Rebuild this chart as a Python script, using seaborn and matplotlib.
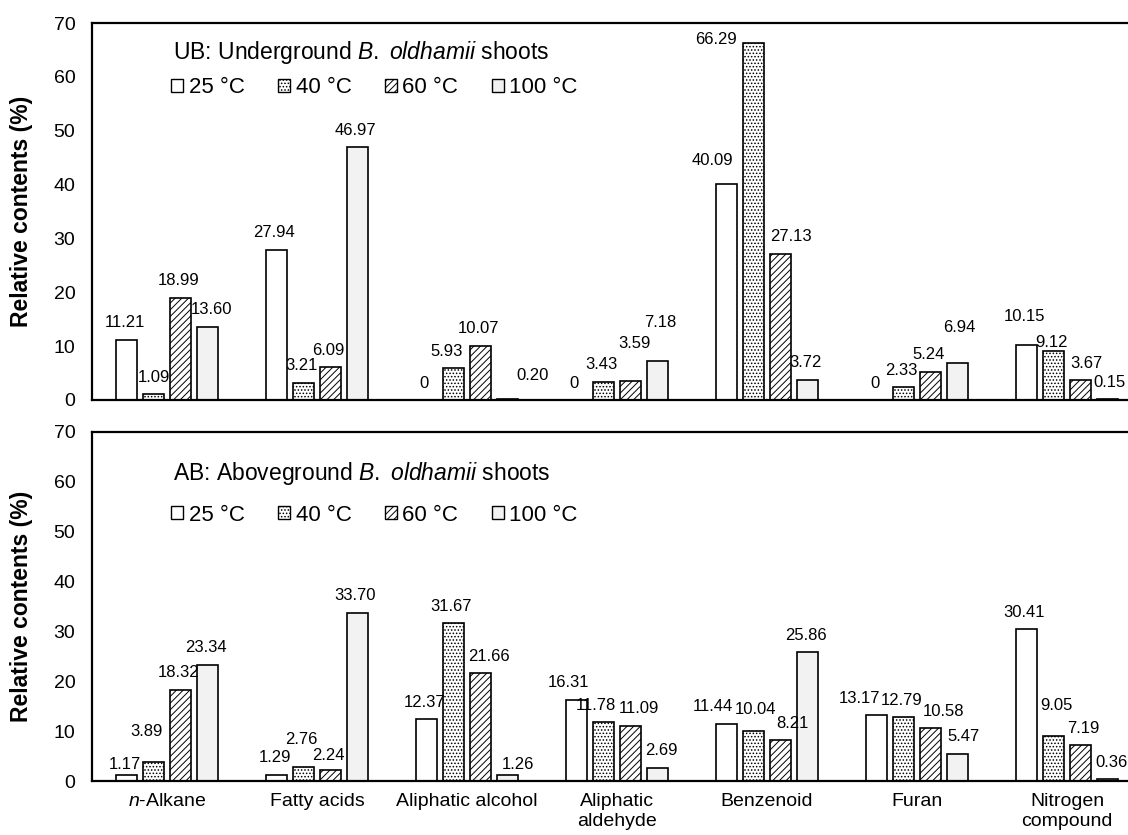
import numpy as np
import pandas as pd
import matplotlib
matplotlib.use("Agg")
import matplotlib.pyplot as plt
import matplotlib.patches as mpatches
import seaborn as sns

sns.set_style("white")
plt.rcParams['font.family'] = ['Liberation Sans', 'DejaVu Sans']
plt.rcParams['mathtext.fontset'] = 'custom'
plt.rcParams['mathtext.rm'] = 'Liberation Sans'
plt.rcParams['mathtext.it'] = 'Liberation Sans:italic'
plt.rcParams['hatch.linewidth'] = 0.7
for key in ['text.color', 'axes.labelcolor', 'xtick.color', 'ytick.color']:
    plt.rcParams[key] = 'black'

############################################################################################################
# Data
categories = ["$\\mathit{n}$-Alkane", "Fatty acids", "Aliphatic alcohol", "Aliphatic\naldehyde",
              "Benzenoid", "Furan", "Nitrogen\ncompound"]
temps = ["25 °C", "40 °C", "60 °C", "100 °C"]

ub_25 = [11.21, 27.94, 0, 0, 40.09, 0, 10.15]
ub_40 = [1.09, 3.21, 5.93, 3.43, 66.29, 2.33, 9.12]
ub_60 = [18.99, 6.09, 10.07, 3.59, 27.13, 5.24, 3.67]
ub_100 = [13.60, 46.97, 0.20, 7.18, 3.72, 6.94, 0.15]

ab_25 = [1.17, 1.29, 12.37, 16.31, 11.44, 13.17, 30.41]
ab_40 = [3.89, 2.76, 31.67, 11.78, 10.04, 12.79, 9.05]
ab_60 = [18.32, 2.24, 21.66, 11.09, 8.21, 10.58, 7.19]
ab_100 = [23.34, 33.70, 1.26, 2.69, 25.86, 5.47, 0.36]

titles = ["UB: Underground $\\mathit{B.\\ oldhamii}$ shoots",
          "AB: Aboveground $\\mathit{B.\\ oldhamii}$ shoots"]

# style per temperature
colors = ["white", "white", "white", "#f2f2f2"]
hatches = [None, ".....", "/////", None]

# hand-moved data labels (pixels, keyed by (category, temperature)), as in the original figure
nudges = [
    {(0, 1): (2, 0), (0, 3): (6, 0), (4, 0): (-12, 7), (4, 1): (-35, -14), (4, 2): (12, 0),
     (2, 3): (27, 6), (3, 2): (6, 20), (3, 3): (5, 22), (5, 3): (4, 18),
     (6, 0): (0, 12), (6, 1): (0, -9), (6, 2): (8, 0), (6, 3): (4, 0), (2, 1): (-5, 0)},
    {(0, 1): (-5, 13), (0, 0): (0, -6), (1, 1): (0, 11), (1, 2): (0, -3),
     (2, 2): (10, 0), (2, 3): (12, -7),
     (3, 0): (-6, 0), (3, 1): (-6, 0), (3, 2): (10, 0), (3, 3): (6, 0),
     (4, 0): (-12, 0), (4, 1): (4, 4), (4, 2): (14, 0),
     (5, 0): (-15, 0), (5, 1): (0, 0), (5, 2): (15, 0), (5, 3): (8, 0),
     (6, 1): (5, 13), (6, 2): (5, 0), (6, 3): (6, 0)},
]


def long_df(series):
    rows = []
    for t, vals in zip(temps, series):
        for c, v in zip(categories, vals):
            rows.append({"category": c, "temp": t, "value": v})
    return pd.DataFrame(rows)


df_ub = long_df([ub_25, ub_40, ub_60, ub_100])
df_ab = long_df([ab_25, ab_40, ab_60, ab_100])

############################################################################################################
# Plot
W, H = 1128, 835
fig = plt.figure(figsize=(W / 100, H / 100), dpi=100)
ax1 = fig.add_axes([92 / W, 1 - 400 / H, 1050 / W, 377 / H])
ax2 = fig.add_axes([92 / W, 1 - 781 / H, 1050 / W, 349 / H])

for k, (ax, df) in enumerate([(ax1, df_ub), (ax2, df_ab)]):
    sns.barplot(data=df, x="category", y="value", hue="temp", order=categories, hue_order=temps,
                palette=colors, edgecolor="black", linewidth=1.2, width=0.72, gap=0.22,
                errorbar=None, legend=False, ax=ax)
    for i, cont in enumerate(ax.containers):
        for j, bar in enumerate(cont):
            if hatches[i]:
                bar.set_hatch(hatches[i])
            v = bar.get_height()
            txt = "0" if v == 0 else f"{v:.2f}"
            dx, dy = nudges[k].get((j, i), (0, 0))
            ax.annotate(txt, (bar.get_x() + bar.get_width() / 2, v),
                        xytext=(-2 + dx, 17 + dy), textcoords="offset pixels",
                        ha="center", va="center", fontsize=12)

    ax.set_ylim(0, 70)
    ax.set_yticks(range(0, 71, 10))
    ax.set_xlim(-0.5, 6.5)
    ax.set_ylabel("Relative contents (%)", fontsize=16.5, fontweight="bold")
    ax.yaxis.set_label_coords(-0.056, 0.5)
    ax.set_xlabel("")
    ax.tick_params(axis="both", length=0, labelsize=14)
    ax.tick_params(axis="y", pad=12)
    ax.tick_params(axis="x", pad=9)
    ax.spines["right"].set_visible(False)
    for s in ["top", "left", "bottom"]:
        ax.spines[s].set_linewidth(1.6)
        ax.spines[s].set_color("black")

    # panel title and legend
    ty = 0.923 if k == 0 else 0.88
    ly = 0.828 if k == 0 else 0.762
    ax.text(0.077, ty, titles[k], transform=ax.transAxes, fontsize=16.5, va="center", ha="left")
    handles = [mpatches.Patch(facecolor=colors[i], edgecolor="black", hatch=hatches[i],
                              linewidth=1.0, label=temps[i]) for i in range(4)]
    ax.legend(handles=handles, loc="center left", bbox_to_anchor=(0.075, ly), ncol=4,
              frameon=False, fontsize=16, handlelength=0.55, handleheight=0.55,
              handletextpad=0.25, columnspacing=1.5, borderpad=0, borderaxespad=0)

ax1.tick_params(axis="x", labelbottom=False)
ax2.set_xticks(range(len(categories)))
ax2.set_xticklabels(categories, fontsize=14)

plt.savefig("out.png", dpi=100)
